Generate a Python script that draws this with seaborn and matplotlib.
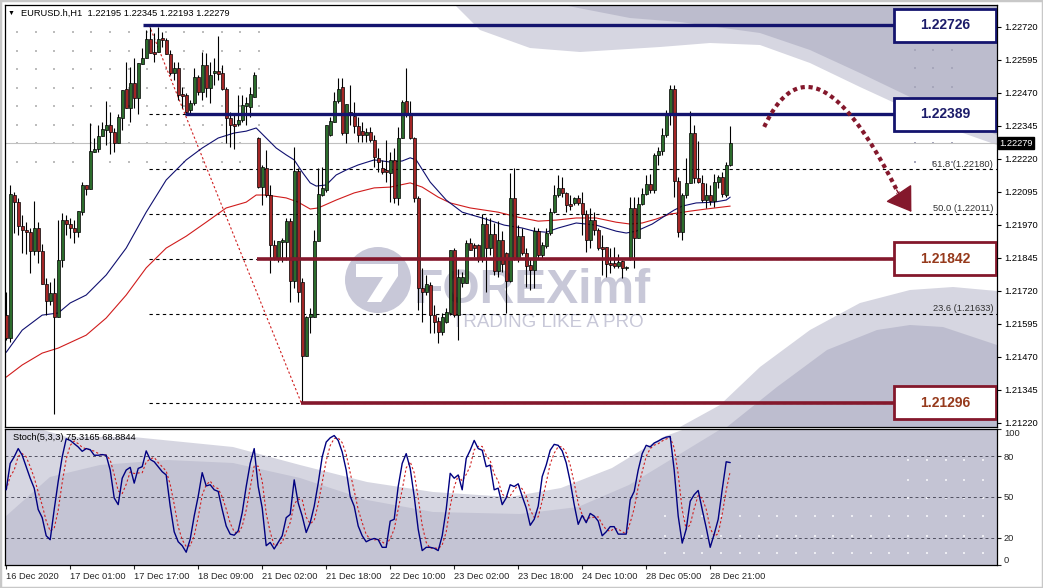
import numpy as np
import pandas as pd
import seaborn as sns
import matplotlib.pyplot as plt
from matplotlib.patches import Rectangle, Polygon, Ellipse
from matplotlib.transforms import blended_transform_factory

# ---------------------------------------------------------------- data
opens = [1.21628, 1.21541, 1.22083, 1.22056, 1.21965, 1.21950, 1.21942, 1.21870, 1.21958, 1.21870,
         1.21746, 1.21681, 1.21712, 1.21620, 1.21837, 1.21988, 1.21973, 1.21958, 1.21942, 1.22018,
         1.22121, 1.22106, 1.22246, 1.22257, 1.22306, 1.22329, 1.22348, 1.22321, 1.22280, 1.22375,
         1.22485, 1.22413, 1.22508, 1.22451, 1.22580, 1.22602, 1.22674, 1.22624, 1.22624, 1.22678,
         1.22670, 1.22617, 1.22546, 1.22565, 1.22466, 1.22462, 1.22405, 1.22432, 1.22530, 1.22473,
         1.22576, 1.22489, 1.22546, 1.22553, 1.22546, 1.22485, 1.22375, 1.22352, 1.22352, 1.22367,
         1.22420, 1.22416, 1.22454, 1.22299, 1.22113, 1.22186, 1.22083, 1.21893, 1.21844, 1.21904,
         1.21904, 1.21984, 1.21757, 1.22174, 1.21753, 1.21472, 1.21620, 1.21620, 1.21908, 1.22083,
         1.22102, 1.22310, 1.22359, 1.22439, 1.22492, 1.22318, 1.22397, 1.22382, 1.22344, 1.22325,
         1.22310, 1.22321, 1.22291, 1.22224, 1.22186, 1.22178, 1.22167, 1.22216, 1.22072, 1.22299,
         1.22439, 1.22386, 1.22299, 1.22072, 1.21731, 1.21715, 1.21742, 1.21628, 1.21605, 1.21563,
         1.21601, 1.21636, 1.21874, 1.21628, 1.21750, 1.21750, 1.21901, 1.21893, 1.21893, 1.21844,
         1.21973, 1.21882, 1.21935, 1.21795, 1.21912, 1.21863, 1.21757, 1.22072, 1.21844, 1.21927,
         1.21863, 1.21818, 1.21799, 1.21946, 1.21855, 1.21889, 1.21939, 1.22018, 1.22083, 1.22110,
         1.22091, 1.22049, 1.22053, 1.22072, 1.22053, 1.22011, 1.21912, 1.21988, 1.21950, 1.21885,
         1.21885, 1.21826, 1.21826, 1.21814, 1.21833, 1.21807, 1.21844, 1.22034, 1.21920, 1.22049,
         1.22087, 1.22125, 1.22102, 1.22235, 1.22250, 1.22310, 1.22394, 1.22485, 1.22136, 1.21942,
         1.22083, 1.22129, 1.22318, 1.22148, 1.22129, 1.22064, 1.22083, 1.22060, 1.22132, 1.22151,
         1.22083, 1.22195]
highs = [1.21715, 1.22121, 1.22094, 1.22072, 1.22007, 1.21980, 1.21958, 1.22060, 1.21980, 1.21897,
         1.21769, 1.21753, 1.21769, 1.21988, 1.22015, 1.22007, 1.21996, 1.21988, 1.22022, 1.22132,
         1.22121, 1.22356, 1.22299, 1.22348, 1.22359, 1.22439, 1.22397, 1.22337, 1.22390, 1.22481,
         1.22587, 1.22568, 1.22602, 1.22584, 1.22640, 1.22708, 1.22720, 1.22697, 1.22720, 1.22700,
         1.22678, 1.22632, 1.22587, 1.22587, 1.22492, 1.22470, 1.22443, 1.22565, 1.22538, 1.22624,
         1.22621, 1.22587, 1.22602, 1.22685, 1.22576, 1.22492, 1.22397, 1.22386, 1.22462, 1.22462,
         1.22454, 1.22492, 1.22549, 1.22302, 1.22197, 1.22254, 1.22121, 1.21912, 1.21908, 1.21920,
         1.21996, 1.21996, 1.22264, 1.22186, 1.21769, 1.21624, 1.21655, 1.21950, 1.22186, 1.22189,
         1.22348, 1.22378, 1.22473, 1.22527, 1.22527, 1.22428, 1.22500, 1.22435, 1.22378, 1.22359,
         1.22337, 1.22340, 1.22310, 1.22261, 1.22216, 1.22291, 1.22246, 1.22261, 1.22340, 1.22443,
         1.22565, 1.22439, 1.22302, 1.22079, 1.21807, 1.21780, 1.21753, 1.21666, 1.21620, 1.21636,
         1.21655, 1.21874, 1.21882, 1.21803, 1.21791, 1.21912, 1.21920, 1.21901, 1.21897, 1.22011,
         1.21999, 1.21996, 1.21977, 1.21984, 1.21946, 1.21866, 1.22167, 1.22186, 1.21969, 1.21958,
         1.21882, 1.21844, 1.21961, 1.21958, 1.21904, 1.21958, 1.22034, 1.22121, 1.22159, 1.22151,
         1.22094, 1.22083, 1.22075, 1.22083, 1.22094, 1.22026, 1.22034, 1.22018, 1.21958, 1.21931,
         1.21885, 1.21882, 1.21885, 1.21859, 1.21837, 1.21814, 1.22075, 1.22075, 1.22075, 1.22110,
         1.22159, 1.22163, 1.22243, 1.22264, 1.22337, 1.22405, 1.22500, 1.22500, 1.22151, 1.22091,
         1.22224, 1.22401, 1.22348, 1.22287, 1.22159, 1.22129, 1.22121, 1.22163, 1.22159, 1.22170,
         1.22208, 1.22345]
lows = [1.21533, 1.21525, 1.21939, 1.21931, 1.21863, 1.21859, 1.21788, 1.21855, 1.21826, 1.21746,
        1.21628, 1.21666, 1.21253, 1.21620, 1.21810, 1.21931, 1.21920, 1.21901, 1.21923, 1.22007,
        1.22083, 1.22106, 1.22246, 1.22246, 1.22306, 1.22272, 1.22239, 1.22246, 1.22280, 1.22329,
        1.22413, 1.22359, 1.22413, 1.22390, 1.22580, 1.22602, 1.22621, 1.22587, 1.22624, 1.22643,
        1.22617, 1.22538, 1.22519, 1.22443, 1.22413, 1.22386, 1.22386, 1.22424, 1.22462, 1.22443,
        1.22454, 1.22432, 1.22500, 1.22519, 1.22481, 1.22280, 1.22264, 1.22257, 1.22344, 1.22359,
        1.22348, 1.22378, 1.22454, 1.22110, 1.22045, 1.22075, 1.21788, 1.21837, 1.21829, 1.21829,
        1.21837, 1.21677, 1.21731, 1.21677, 1.21295, 1.21472, 1.21560, 1.21620, 1.21908, 1.22079,
        1.22094, 1.22306, 1.22359, 1.22432, 1.22310, 1.22280, 1.22348, 1.22318, 1.22283, 1.22283,
        1.22283, 1.22283, 1.22189, 1.22170, 1.22163, 1.22132, 1.22056, 1.22053, 1.22045, 1.22299,
        1.22378, 1.22295, 1.22056, 1.21647, 1.21601, 1.21704, 1.21560, 1.21560, 1.21522, 1.21552,
        1.21598, 1.21628, 1.21620, 1.21533, 1.21734, 1.21750, 1.21874, 1.21847, 1.21829, 1.21829,
        1.21715, 1.21855, 1.21780, 1.21772, 1.21791, 1.21636, 1.21753, 1.21837, 1.21829, 1.21855,
        1.21734, 1.21723, 1.21731, 1.21844, 1.21844, 1.21882, 1.21931, 1.22015, 1.22075, 1.22075,
        1.22018, 1.22026, 1.22045, 1.22045, 1.21931, 1.21866, 1.21882, 1.21931, 1.21874, 1.21780,
        1.21772, 1.21788, 1.21807, 1.21807, 1.21769, 1.21799, 1.21837, 1.21807, 1.21920, 1.22045,
        1.22083, 1.22091, 1.22091, 1.22197, 1.22235, 1.22302, 1.22348, 1.22075, 1.21923, 1.21912,
        1.22072, 1.22129, 1.22129, 1.22129, 1.22056, 1.22034, 1.22045, 1.22037, 1.22110, 1.22075,
        1.22075, 1.22193]
closes = [1.21541, 1.22087, 1.22056, 1.21965, 1.21950, 1.21942, 1.21870, 1.21958, 1.21870, 1.21746,
          1.21681, 1.21712, 1.21620, 1.21837, 1.21988, 1.21973, 1.21958, 1.21942, 1.22022, 1.22121,
          1.22106, 1.22250, 1.22257, 1.22306, 1.22333, 1.22348, 1.22321, 1.22280, 1.22378, 1.22481,
          1.22413, 1.22508, 1.22451, 1.22584, 1.22602, 1.22674, 1.22621, 1.22617, 1.22674, 1.22670,
          1.22617, 1.22546, 1.22565, 1.22462, 1.22458, 1.22397, 1.22432, 1.22530, 1.22473, 1.22576,
          1.22489, 1.22538, 1.22553, 1.22542, 1.22485, 1.22375, 1.22348, 1.22344, 1.22367, 1.22424,
          1.22432, 1.22466, 1.22538, 1.22113, 1.22189, 1.22083, 1.21893, 1.21844, 1.21908, 1.21912,
          1.21984, 1.21757, 1.22174, 1.21715, 1.21472, 1.21620, 1.21632, 1.21908, 1.22087, 1.22110,
          1.22348, 1.22363, 1.22439, 1.22485, 1.22318, 1.22428, 1.22386, 1.22344, 1.22310, 1.22310,
          1.22321, 1.22291, 1.22227, 1.22208, 1.22170, 1.22170, 1.22216, 1.22072, 1.22299, 1.22435,
          1.22386, 1.22299, 1.22072, 1.21731, 1.21715, 1.21746, 1.21628, 1.21601, 1.21563, 1.21620,
          1.21639, 1.21874, 1.21628, 1.21772, 1.21772, 1.21901, 1.21874, 1.21882, 1.21844, 1.21973,
          1.21882, 1.21935, 1.21795, 1.21912, 1.21822, 1.21757, 1.22072, 1.21844, 1.21927, 1.21863,
          1.21814, 1.21799, 1.21946, 1.21855, 1.21893, 1.21939, 1.22018, 1.22083, 1.22110, 1.22091,
          1.22045, 1.22041, 1.22072, 1.22053, 1.22011, 1.21912, 1.21988, 1.21950, 1.21882, 1.21878,
          1.21822, 1.21818, 1.21814, 1.21829, 1.21807, 1.21807, 1.22034, 1.21920, 1.22049, 1.22087,
          1.22125, 1.22102, 1.22235, 1.22250, 1.22310, 1.22394, 1.22485, 1.22136, 1.21942, 1.22083,
          1.22129, 1.22318, 1.22148, 1.22132, 1.22064, 1.22083, 1.22060, 1.22132, 1.22151, 1.22087,
          1.22195, 1.22279]

# moving averages (bar index, price)
ma_fast_bar = [0, 4, 9, 13, 16, 20, 25, 30, 35, 40, 45, 49, 53, 57, 60, 62.5, 65, 67.5, 70, 72,
               74, 76, 77.5, 80, 82.5, 85, 88, 92, 96, 99, 101, 102.5, 106, 110, 114, 119, 124.5,
               129, 132, 135, 138, 142.5, 147.5, 152.5, 155, 157.5, 161.5, 165, 167, 169, 172.5,
               177, 180, 181]
ma_fast = [1.21487, 1.21571, 1.21628, 1.21636, 1.21674, 1.21704, 1.21780, 1.21882, 1.22018, 1.22140,
           1.22216, 1.22261, 1.22299, 1.22318, 1.22325, 1.22337, 1.22299, 1.22261, 1.22235, 1.22216,
           1.22170, 1.22129, 1.22117, 1.22121, 1.22159, 1.22178, 1.22197, 1.22216, 1.22208, 1.22212,
           1.22224, 1.22216, 1.22132, 1.22064, 1.22018, 1.21996, 1.21969, 1.21958, 1.21946, 1.21942,
           1.21958, 1.21977, 1.21969, 1.21946, 1.21939, 1.21946, 1.21973, 1.22007, 1.22026, 1.22041,
           1.22053, 1.22056, 1.22064, 1.22075]
ma_slow_bar = [0, 4, 9, 13, 20, 25, 30, 35, 40, 45, 50, 55, 60, 62.5, 65, 70, 73, 76, 78, 82.5,
               87, 92, 96, 101, 104, 108, 111, 116, 123, 128, 133, 137.5, 142.5, 147.5, 152.5,
               156, 159, 162.5, 166, 168, 171, 175, 181]
ma_slow = [1.21393, 1.21439, 1.21484, 1.21503, 1.21552, 1.21617, 1.21704, 1.21807, 1.21882, 1.21927,
           1.21980, 1.22034, 1.22056, 1.22083, 1.22083, 1.22072, 1.22056, 1.22030, 1.22034, 1.22064,
           1.22091, 1.22110, 1.22113, 1.22129, 1.22113, 1.22075, 1.22053, 1.22034, 1.22018, 1.21999,
           1.21984, 1.21988, 1.21996, 1.21996, 1.21980, 1.21973, 1.21977, 1.21992, 1.22011, 1.22015,
           1.22022, 1.22030, 1.22041]

# Stoch(5,3,3) %K per bar
stoch_k = [55.3, 74.7, 79.5, 85.6, 80.7, 72.3, 63.8, 56.5, 40.8, 34.8,
           21.5, 18.6, 40.8, 61.4, 79.5, 92.8, 91.6, 89.2, 86.8, 83.6,
           85.6, 84.8, 80.7, 80.7, 81.2, 80.7, 69.8, 49.3, 44.4, 63.8,
           69.8, 71.8, 60.2, 71.0, 72.3, 83.9, 77.6, 75.9, 72.3, 68.6,
           66.2, 43.2, 24.4, 17.1, 14.2, 9.4, 19.0, 36.0, 50.5, 67.9,
           58.2, 59.0, 55.3, 54.1, 40.8, 28.7, 22.7, 21.9, 25.1, 38.4,
           57.7, 74.7, 85.6, 57.7, 42.0, 14.2, 16.6, 11.8, 16.6, 21.5,
           34.8, 37.2, 62.6, 45.6, 36.0, 23.9, 31.1, 43.2, 60.2, 79.5,
           90.4, 93.5, 95.2, 91.6, 83.1, 69.8, 50.5, 43.2, 28.7, 21.5,
           17.1, 18.6, 19.5, 18.6, 13.0, 13.0, 32.3, 33.6, 57.7, 74.7,
           81.9, 71.0, 50.5, 26.3, 10.6, 13.0, 13.0, 12.3, 10.6, 21.5,
           40.8, 67.4, 63.8, 66.2, 55.3, 78.3, 84.4, 91.6, 85.6, 84.4,
           72.3, 73.5, 55.3, 56.5, 44.4, 49.3, 59.0, 57.7, 59.7, 50.5,
           42.0, 29.2, 33.6, 43.2, 65.0, 73.5, 84.4, 88.7, 88.0, 83.9,
           75.2, 61.4, 44.4, 29.9, 36.5, 31.1, 37.9, 36.0, 32.3, 21.5,
           24.4, 28.2, 28.2, 22.7, 22.7, 22.7, 48.0, 54.1, 69.8, 81.9,
           88.0, 86.8, 89.7, 91.1, 92.8, 94.0, 94.5, 69.8, 36.0, 16.1,
           26.3, 46.9, 51.7, 54.8, 40.8, 27.5, 13.0, 22.7, 33.6, 55.4,
           75.9, 75.3]

level_blue = [1.22726, 1.22389]
level_blue_start = [34.25, 44.75]
level_red = [1.21842, 1.21296]
level_red_start = [62.75, 73.75]

fib_low, fib_high = 1.21296, 1.22726
fib_pcts = [0, 23.6, 38.2, 50.0, 61.8, 76.4, 100]
fib_shown = {61.8: "1.22180", 50.0: "1.22011", 23.6: "1.21633"}

x_tick_bars = [0, 16, 32, 48, 64, 80, 96, 112, 128, 144, 160, 176]
x_tick_labels = ["16 Dec 2020", "17 Dec 01:00", "17 Dec 17:00", "18 Dec 09:00", "21 Dec 02:00",
                 "21 Dec 18:00", "22 Dec 10:00", "23 Dec 02:00", "23 Dec 18:00", "24 Dec 10:00",
                 "28 Dec 05:00", "28 Dec 21:00"]
price_ticks = [1.22720, 1.22595, 1.22470, 1.22345, 1.22220, 1.22095, 1.21970, 1.21845,
               1.21720, 1.21595, 1.21470, 1.21345, 1.21220]
last_price = 1.22279

# ---------------------------------------------------------------- style
sns.set_style("white")
plt.rcParams['font.family'] = ['Liberation Sans', 'DejaVu Sans']
FS = 6.7
NAVY = '#14146e'
MAROON = '#84182c'
GREEN = '#2c6c2c'
RED = '#a32626'

W, H = 1043, 588
fig = plt.figure(figsize=(W / 100, H / 100), dpi=100)
fig.patch.set_facecolor('white')
ax = fig.add_axes([5 / W, 1 - 427 / H, 992 / W, 422 / H])
ax2 = fig.add_axes([5 / W, 1 - 565 / H, 992 / W, 136 / H])

XLIM = (-0.3, 247.7)
ax.set_xlim(*XLIM)
ax.set_ylim(1.21204, 1.22803)
ax2.set_xlim(*XLIM)
ax2.set_ylim(0, 100)


def main_px(pts):
    return [((x - 5) / 992, (427 - y) / 422) for x, y in pts]


def stoch_px(pts):
    return [((x - 5) / 992, (565 - y) / 136) for x, y in pts]


# background swooshes (watermark art)
ax.add_patch(Polygon(main_px([(455, 5), (480, 30), (530, 48), (580, 52), (660, 47), (710, 43),
                              (760, 45), (810, 63), (860, 87), (910, 110), (960, 132),
                              (997, 145), (997, 5)]),
                     transform=ax.transAxes, fc='#d6d6e1', ec='none', zorder=0.1))
ax.add_patch(Polygon(main_px([(563, 5), (630, 18), (680, 22), (760, 33), (810, 50), (860, 73),
                              (910, 97), (960, 120), (997, 135), (997, 5)]),
                     transform=ax.transAxes, fc='#bcbccd', ec='none', zorder=0.15))
ax.add_patch(Polygon(main_px([(680, 427), (720, 405), (760, 367), (810, 330), (860, 303),
                              (910, 290), (953, 287), (997, 291), (997, 427)]),
                     transform=ax.transAxes, fc='#d6d6e1', ec='none', zorder=0.1))
ax.add_patch(Polygon(main_px([(727, 427), (777, 387), (827, 350), (877, 330), (910, 325),
                              (943, 327), (997, 345), (997, 427)]),
                     transform=ax.transAxes, fc='#bdbdcf', ec='none', zorder=0.15))

ax2.set_facecolor('#c4c4d4')
ax2.add_patch(Polygon(stoch_px([(5, 429), (5, 517), (50, 477), (100, 465), (167, 460), (233, 463),
                                (300, 478), (367, 500), (433, 512), (520, 514), (578, 507),
                                (629, 485), (680, 454), (721, 429)]),
                      transform=ax2.transAxes, fc='#d6d6e1', ec='none', zorder=0.1))
ax2.add_patch(Polygon(stoch_px([(40, 429), (67, 437), (133, 437), (233, 447), (300, 465),
                                (367, 482), (433, 492), (510, 497), (561, 488), (612, 468),
                                (663, 437), (685, 429)]),
                      transform=ax2.transAxes, fc='white', ec='none', zorder=0.15))

# dot patterns
dx, dy = np.meshgrid(17 + 18.6 * np.arange(14), 32 + 18.5 * np.arange(8))
p = np.array(main_px(zip(dx.ravel(), dy.ravel())))
ax.scatter(p[:, 0], p[:, 1], s=2.2, c='#bdbdbd', marker='s', lw=0, transform=ax.transAxes, zorder=0.2)
dx, dy = np.meshgrid([915, 933, 952], [50, 68, 87, 143, 162])
p = np.array(main_px(zip(dx.ravel(), dy.ravel())))
ax.scatter(p[:, 0], p[:, 1], s=2.2, c='#a6a6ba', marker='s', lw=0, transform=ax.transAxes, zorder=0.2)
cols = 665 + 18.7 * np.arange(18)
pts = [(x, y) for x in cols for y in (516, 536, 553)] + \
      [(x, y) for x in cols if x >= 905 for y in (460, 480, 498)]
p = np.array(stoch_px(pts))
ax2.scatter(p[:, 0], p[:, 1], s=2.2, c='#ececf2', marker='s', lw=0, transform=ax2.transAxes, zorder=0.2)

# FOREXimf watermark
ax.add_patch(Ellipse((378 / W, 1 - 280 / H), 66 / W, 66 / H, transform=fig.transFigure,
                     fc='#c8c8d8', ec='none', zorder=0.5))
ax.add_patch(Polygon([(356 / W, 1 - 264 / H), (398 / W, 1 - 264 / H), (398 / W, 1 - 276 / H),
                      (381 / W, 1 - 302 / H), (367 / W, 1 - 302 / H), (383 / W, 1 - 277 / H),
                      (356 / W, 1 - 277 / H)],
                     transform=fig.transFigure, fc='white', ec='none', zorder=0.55))
ax.text(414 / W, 1 - 303 / H, "FOREXimf", transform=fig.transFigure, fontsize=34.5,
        fontweight='bold', color='#c8c8d8', ha='left', va='baseline', zorder=0.6)
ax.text(452 / W, 1 - 327 / H, "TRADING LIKE A PRO", transform=fig.transFigure, fontsize=13.5,
        color='#c8c8d8', ha='left', va='baseline', zorder=0.6)

# ---------------------------------------------------------------- price panel
df = pd.DataFrame({'open': opens, 'high': highs, 'low': lows, 'close': closes})
df['bar'] = np.arange(len(df))
up = df['close'] >= df['open']

# current price line
ax.axhline(last_price, color='#c0c0c0', lw=0.8, zorder=0.8)

# fibonacci
for pct in fib_pcts:
    lvl = fib_low + (fib_high - fib_low) * pct / 100
    ax.hlines(lvl, 35.75, XLIM[1], colors='black', linestyles=(0, (3, 3)), lw=0.8, zorder=1)
for pct, txt in fib_shown.items():
    lvl = fib_low + (fib_high - fib_low) * pct / 100
    ax.text(0.996, lvl + 0.00003, f"{pct:.1f} ({txt})", transform=blended_transform_factory(ax.transAxes, ax.transData),
            fontsize=FS, color='#303030', ha='right', va='bottom', zorder=2)
ax.plot([35.75, 73.75], [fib_high, fib_low], color='#d02020', lw=0.8, ls=(0, (2, 2)), zorder=1.5)

# moving averages
sns.lineplot(x=ma_slow_bar, y=ma_slow, ax=ax, color='#d01c1c', lw=0.8, zorder=2)
sns.lineplot(x=ma_fast_bar, y=ma_fast, ax=ax, color='#101070', lw=0.8, zorder=2)

# candles
ax.vlines(df['bar'], df['low'], df['high'], color='black', lw=0.8, zorder=3)
body = (df['close'] - df['open']).abs().clip(lower=0.00003)
ax.bar(df['bar'], body, bottom=df[['open', 'close']].min(axis=1), width=0.72,
       color=np.where(up, GREEN, RED), edgecolor='black', linewidth=0.5, zorder=4)

# support / resistance levels with boxes
BOX_L, BOX_R, BOX_H = 222, 247.5, 0.00124
for lvl, start in zip(level_blue, level_blue_start):
    ax.hlines(lvl, start, BOX_L, colors=NAVY, lw=2.4, zorder=5)
    ax.add_patch(Rectangle((BOX_L, lvl - BOX_H / 2), BOX_R - BOX_L, BOX_H, fc='white', ec=NAVY,
                           lw=2.0, zorder=6))
    ax.text((BOX_L + BOX_R) / 2, lvl, f"{lvl:.5f}", fontsize=10, fontweight='bold', color='#1c1c6a',
            ha='center', va='center', zorder=7)
for lvl, start in zip(level_red, level_red_start):
    ax.hlines(lvl, start, BOX_L, colors=MAROON, lw=2.6, zorder=5)
    ax.add_patch(Rectangle((BOX_L, lvl - BOX_H / 2), BOX_R - BOX_L, BOX_H, fc='white', ec=MAROON,
                           lw=2.0, zorder=6))
    ax.text((BOX_L + BOX_R) / 2, lvl, f"{lvl:.5f}", fontsize=10, fontweight='bold', color='#963a1c',
            ha='center', va='center', zorder=7)

# dotted forecast arrow
p0, p1, p2 = np.array([189.5, 1.22341]), np.array([201.75, 1.22739]), np.array([223.0, 1.22091])
t = np.linspace(0, 1, 80)[:, None]
curve = (1 - t) ** 2 * p0 + 2 * t * (1 - t) * p1 + t ** 2 * p2
ax.plot(curve[:, 0], curve[:, 1], color=MAROON, lw=3.0, ls=(0, (1, 0.9)), solid_capstyle='butt',
        dash_capstyle='butt', zorder=6)
ax.annotate('', xy=(226.3, 1.22019), xytext=(222.6, 1.22102),
            arrowprops=dict(arrowstyle='-|>,head_length=0.75,head_width=0.5', color=MAROON, lw=1,
                            mutation_scale=20, shrinkA=0, shrinkB=0), zorder=6)

# axes cosmetics
ax.yaxis.tick_right()
ax.set_yticks(price_ticks)
ax.set_yticklabels([f"{v:.5f}" for v in price_ticks])
ax.tick_params(axis='y', right=True, left=False, length=3, width=0.8, labelsize=FS, pad=2, colors='black')
ax.tick_params(axis='x', bottom=False, labelbottom=False)
ax.set_xlabel('')
ax.set_ylabel('')
for s in ax.spines.values():
    s.set_color('black')
    s.set_linewidth(0.9)
ax.text(1.0025, last_price, f"{last_price:.5f}", transform=blended_transform_factory(ax.transAxes, ax.transData),
        fontsize=FS, color='white', ha='left', va='center',
        bbox=dict(boxstyle='square,pad=0.15', fc='black', ec='black'), zorder=8, clip_on=False)

fig.text(8 / W, 1 - 13 / H, "\u25BC", fontsize=5, color='black', ha='left', va='center')
fig.text(21 / W, 1 - 13 / H, "EURUSD.h,H1  1.22195 1.22345 1.22193 1.22279", fontsize=FS,
         color='black', ha='left', va='center')

# ---------------------------------------------------------------- stochastic panel
stoch = pd.DataFrame({'bar': np.arange(len(stoch_k)), 'k': stoch_k})
stoch['d'] = stoch['k'].rolling(3, min_periods=1).mean()
for lvl in (80, 50, 20):
    ax2.axhline(lvl, color='#505060', lw=0.7, ls=(0, (3, 3)), zorder=1)
sns.lineplot(data=stoch, x='bar', y='d', ax=ax2, color='#d02020', lw=0.8, zorder=2)
ax2.lines[-1].set_dashes([2, 2])
sns.lineplot(data=stoch, x='bar', y='k', ax=ax2, color='#000080', lw=1.0, zorder=3)

ax2.text(8 / 992, 1 - 8 / 136, "Stoch(5,3,3) 75.3165 68.8844", transform=ax2.transAxes,
         fontsize=FS, color='black', ha='left', va='center', zorder=5)

ax2.yaxis.tick_right()
ax2.set_yticks([100, 80, 50, 20, 0])
ax2.set_yticklabels(['100', '80', '50', '20', '0'])
ax2.tick_params(axis='y', right=True, left=False, length=3, width=0.8, labelsize=FS, pad=2)
tl = ax2.get_yticklabels()
tl[0].set_va('top')
tl[-1].set_va('bottom')
ax2.set_xticks(x_tick_bars)
ax2.set_xticklabels(x_tick_labels)
ax2.tick_params(axis='x', bottom=True, length=3, width=0.8, labelsize=FS, pad=2)
for lbl in ax2.get_xticklabels():
    lbl.set_ha('left')
ax2.set_xlabel('')
ax2.set_ylabel('')
for s in ax2.spines.values():
    s.set_color('black')
    s.set_linewidth(0.9)

fig.patches.append(Rectangle((0, 0), 1, 1, transform=fig.transFigure, fill=False,
                             edgecolor='#c8c8c8', lw=2.5))

fig.savefig('out.png', dpi=100)
